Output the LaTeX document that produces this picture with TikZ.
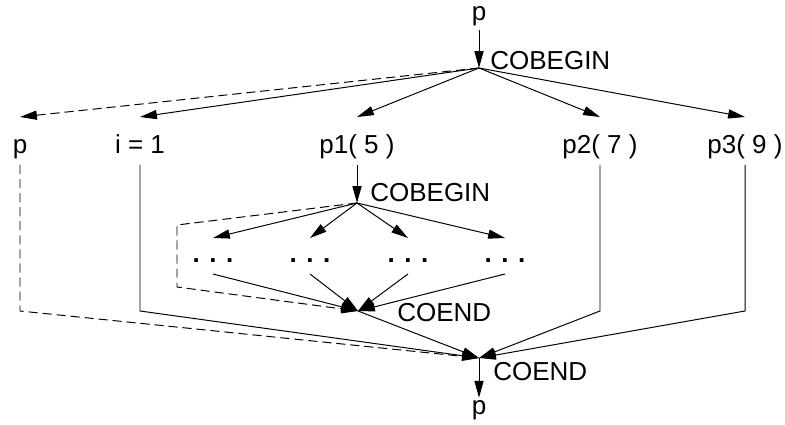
\documentclass[tikz,border=0pt]{standalone}
\usepackage{fontspec}
\setmainfont{Liberation Sans}
\usetikzlibrary{arrows.meta, calc, positioning}

\begin{document}
\begin{tikzpicture}[>={Triangle[length=12pt,width=6.5pt]}, line width=0.7pt,
  txt/.style={font=\fontsize{18.5}{21}\selectfont, inner sep=2pt},
  dsh/.style={dash pattern=on 6.5pt off 3.5pt}]
\useasboundingbox (0,0) rectangle (19.625,10.625);

\node (ptop) [txt, anchor=base] at (11.975,10.1) {p};
\coordinate (fork1) at (11.975,8.925);
\node (cb1) [txt, anchor=base west] at ($(fork1)+(0.2,-0.05)$) {COBEGIN};

% processes
\node (lp)  [txt, anchor=base] at (0.5,6.775) {p};
\node (li)  [txt, anchor=base] at (3.5,6.775) {i = 1};
\node (lp1) [txt, anchor=base] at (8.925,6.775) {p1( 5 )};
\node (lp2) [txt, anchor=base] at (15,6.775) {p2( 7 )};
\node (lp3) [txt, anchor=base] at (18.625,6.775) {p3( 9 )};
\foreach \n in {lp,li,lp1,lp2,lp3} {
  \coordinate (\n-in) at ($(\n.base)+(0,0.925)$);
  \coordinate (\n-out) at ($(\n.base)+(0,-0.275)$);
}

% inner cobegin of p1
\coordinate (fork2) at (8.925,5.55);
\node (cb2) [txt, anchor=base west] at ($(fork2)+(0.25,0.025)$) {COBEGIN};
\foreach \x [count=\i] in {5.325,7.75,10.2,12.625} {
  \node (d\i) [txt, anchor=base] at (\x,4.05) {\bfseries. . .};
  \coordinate (d\i-in) at ($(d\i.base)+(0,0.625)$);
  \coordinate (d\i-out) at ($(d\i.base)+(0,-0.275)$);
}
\coordinate (c1) at (4.425,5.0);
\coordinate (c2) at (4.425,3.45);
\coordinate (join2) at (8.95,2.85);
\node (ce1) [txt, anchor=base west] at ($(join2)+(0.9,-0.275)$) {COEND};

\coordinate (join1) at (11.975,1.675);
\node (ce2) [txt, anchor=base west] at ($(join1)+(0.275,-0.575)$) {COEND};
\node (pbot) [txt, anchor=base] at (11.975,0.25) {p};

\draw [->] (ptop) -- (fork1);
\draw [->, dsh] (fork1) -- (lp-in);
\foreach \n in {li,lp1,lp2,lp3}
  \draw [->] (fork1) -- (\n-in);

\draw [->] (lp1-out) -- (fork2);
\foreach \i in {1,...,4} {
  \draw [->] (fork2) -- (d\i-in);
  \draw [->] (d\i-out) -- (join2);
}
\draw [->, dsh] (fork2) -- (c1) -- (c2) -- (join2);

\draw [->, dsh] (lp-out) -- (lp-out |- join2) -- (join1);
\draw [->] (li-out) -- (li-out |- join2) -- (join1);
\draw [->] (join2) -- (join1);
\draw [->] (lp2-out) -- (lp2-out |- join2) -- (join1);
\draw [->] (lp3-out) -- (lp3-out |- join2) -- (join1);
\draw [->] (join1) -- (pbot);
\end{tikzpicture}
\end{document}
